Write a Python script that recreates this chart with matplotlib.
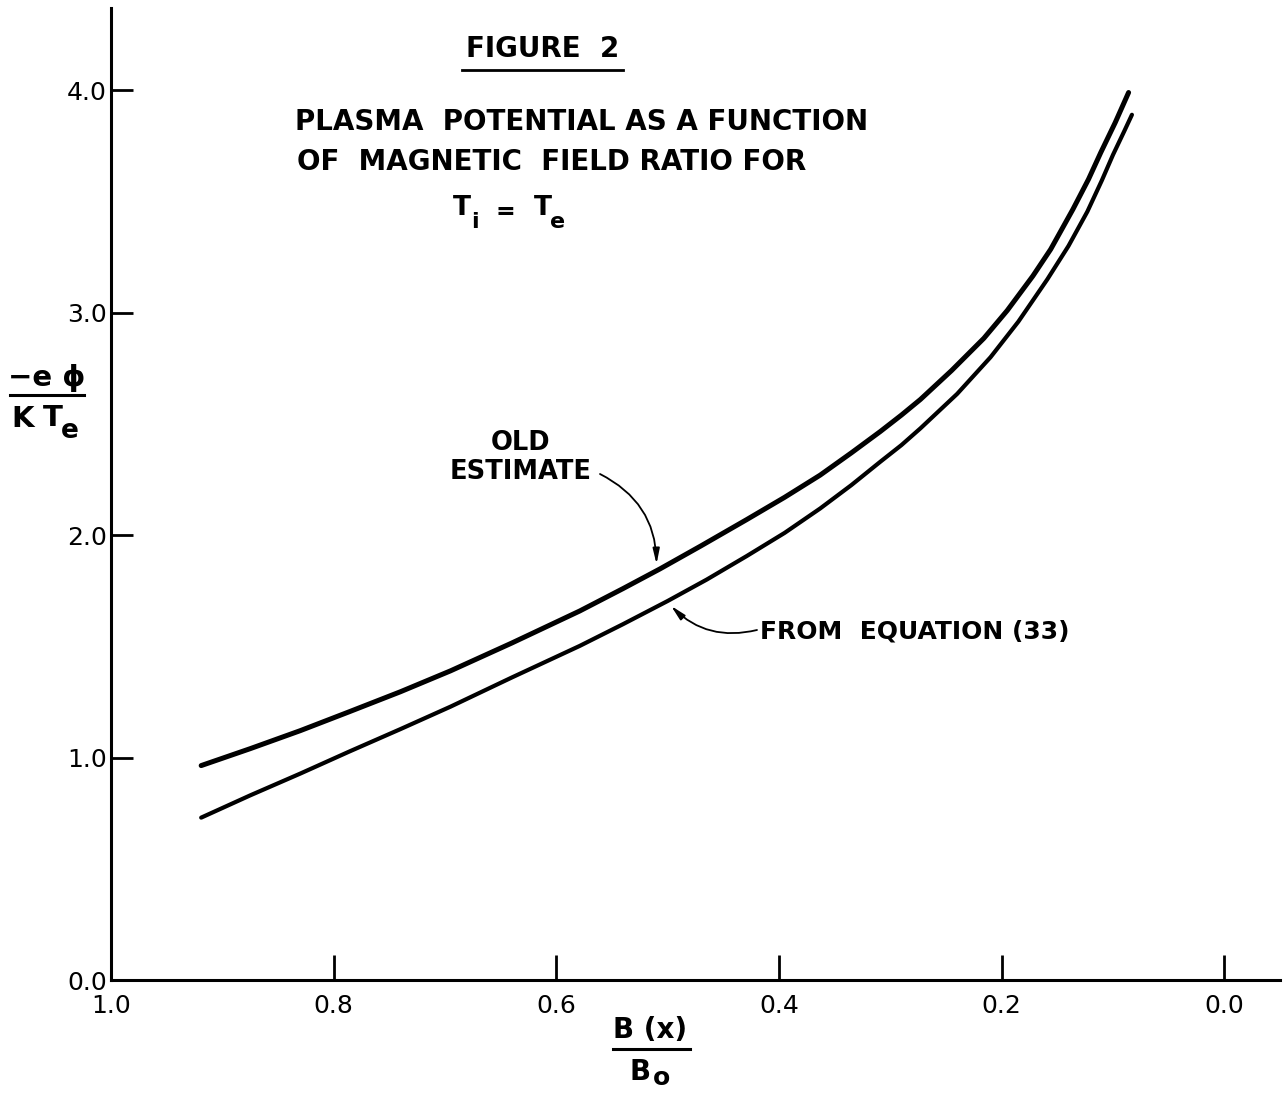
import numpy as np
import matplotlib
import matplotlib.pyplot as plt
from matplotlib.lines import Line2D

matplotlib.use("Agg")

# B(x)/B0 and -e*phi/(K Te)
x_old = [0.919, 0.875, 0.830, 0.786, 0.740, 0.695, 0.640, 0.579, 0.540,
         0.507, 0.470, 0.429, 0.395, 0.363, 0.335, 0.309, 0.290, 0.273,
         0.245, 0.216, 0.195, 0.172, 0.156, 0.136, 0.122, 0.111, 0.098,
         0.086]
y_old = [0.964, 1.040, 1.121, 1.206, 1.296, 1.390, 1.515, 1.659, 1.760,
         1.848, 1.952, 2.070, 2.170, 2.270, 2.370, 2.466, 2.540, 2.610,
         2.740, 2.885, 3.010, 3.165, 3.285, 3.465, 3.600, 3.720, 3.855,
         3.990]

x_eq33 = [0.919, 0.875, 0.830, 0.786, 0.740, 0.695, 0.640, 0.579, 0.540,
          0.500, 0.465, 0.429, 0.395, 0.363, 0.335, 0.309, 0.290, 0.273,
          0.240, 0.210, 0.185, 0.159, 0.140, 0.123, 0.110, 0.100, 0.090,
          0.083]
y_eq33 = [0.730, 0.830, 0.928, 1.027, 1.128, 1.229, 1.360, 1.502, 1.600,
          1.704, 1.800, 1.906, 2.010, 2.120, 2.225, 2.330, 2.405, 2.480,
          2.635, 2.800, 2.960, 3.150, 3.300, 3.455, 3.595, 3.710, 3.815,
          3.890]

x_ticks = [1.0, 0.8, 0.6, 0.4, 0.2, 0.0]
x_tick_labels = ["1.0", "0.8", "0.6", "0.4", "0.2", "0.0"]
y_ticks = [0.0, 1.0, 2.0, 3.0, 4.0]
y_tick_labels = ["0.0", "1.0", "2.0", "3.0", "4.0"]

W, H = 1285, 1096
fig = plt.figure(figsize=(W / 100, H / 100), dpi=100)
ax = fig.add_axes([111 / W, 1 - 980 / H, (1280 - 111) / W, (980 - 8) / H])

ax.plot(x_old, y_old, color="black", lw=3.6, solid_capstyle="round",
        solid_joinstyle="round")
ax.plot(x_eq33, y_eq33, color="black", lw=3.0, solid_capstyle="round",
        solid_joinstyle="round")

ax.set_xlim(1.0, -0.05)
ax.set_ylim(0.0, 4.37)
ax.spines["top"].set_visible(False)
ax.spines["right"].set_visible(False)
ax.spines["left"].set_linewidth(2.2)
ax.spines["bottom"].set_linewidth(2.2)

ax.set_xticks(x_ticks)
ax.set_xticklabels(x_tick_labels)
ax.set_yticks(y_ticks)
ax.set_yticklabels(y_tick_labels)
ax.tick_params(axis="x", direction="in", length=18, width=2, pad=10,
               labelsize=18)
ax.tick_params(axis="y", direction="in", length=16, width=2, pad=3,
               labelsize=18)


def px(x, y):
    # image pixel (from top-left) -> figure fraction
    return x / W, 1 - y / H


bold = dict(family="DejaVu Sans", fontweight="bold", color="black")

# title block
fig.text(*px(543, 49), "FIGURE  2", ha="center", va="center", fontsize=20, **bold)
fig.add_artist(Line2D([462 / W, 623 / W], [1 - 70 / H] * 2, color="black", lw=2))
fig.text(*px(295, 122), "PLASMA  POTENTIAL AS A FUNCTION", ha="left",
         va="center", fontsize=20, **bold)
fig.text(*px(297, 162), "OF  MAGNETIC  FIELD RATIO FOR", ha="left",
         va="center", fontsize=20, **bold)
fig.text(*px(462, 208), "T", ha="center", va="center", fontsize=19, **bold)
fig.text(*px(475, 222), "i", ha="center", va="center", fontsize=16, **bold)
fig.text(*px(505, 212), "=", ha="center", va="center", fontsize=17, **bold)
fig.text(*px(543, 208), "T", ha="center", va="center", fontsize=19, **bold)
fig.text(*px(558, 222), "e", ha="center", va="center", fontsize=16, **bold)

# y label as a fraction
fig.text(*px(47, 378), "\u2212e \u03d5", ha="center", va="center", fontsize=21, **bold)
fig.add_artist(Line2D([10 / W, 84 / W], [1 - 395 / H] * 2, color="black", lw=2.2))
fig.text(*px(23, 419), "K", ha="center", va="center", fontsize=21, **bold)
fig.text(*px(53, 418), "T", ha="center", va="center", fontsize=21, **bold)
fig.text(*px(70, 431), "e", ha="center", va="center", fontsize=19, **bold)

# x label as a fraction
fig.text(*px(650, 1030), "B (x)", ha="center", va="center", fontsize=20, **bold)
fig.add_artist(Line2D([613 / W, 690 / W], [1 - 1049 / H] * 2, color="black", lw=2.2))
fig.text(*px(640, 1072), "B", ha="center", va="center", fontsize=20, **bold)
fig.text(*px(662, 1078), "o", ha="center", va="center", fontsize=18, **bold)

# curve labels with arrows
fig.text(*px(521, 443), "OLD", ha="center", va="center", fontsize=18.5, **bold)
fig.text(*px(521, 472), "ESTIMATE", ha="center", va="center", fontsize=18.5, **bold)
fig.text(*px(760, 631), "FROM  EQUATION (33)", ha="left", va="center",
         fontsize=18, **bold)

xo = 0.51
yo = np.interp(xo, x_old[::-1], y_old[::-1])
ax.annotate("", xy=(xo, yo + 0.03), xytext=(600, H - 474),
            textcoords="figure pixels",
            arrowprops=dict(arrowstyle="-|>,head_length=0.9,head_width=0.2",
                            color="black", lw=1.3, shrinkA=0, shrinkB=0,
                            connectionstyle="arc3,rad=-0.3"))
xe = 0.497
ye = np.interp(xe, x_eq33[::-1], y_eq33[::-1])
ax.annotate("", xy=(xe, ye - 0.03), xytext=(757, H - 630),
            textcoords="figure pixels",
            arrowprops=dict(arrowstyle="-|>,head_length=0.9,head_width=0.2",
                            color="black", lw=1.3, shrinkA=0, shrinkB=0,
                            connectionstyle="arc3,rad=-0.28"))

fig.savefig("out.png", dpi=100)
